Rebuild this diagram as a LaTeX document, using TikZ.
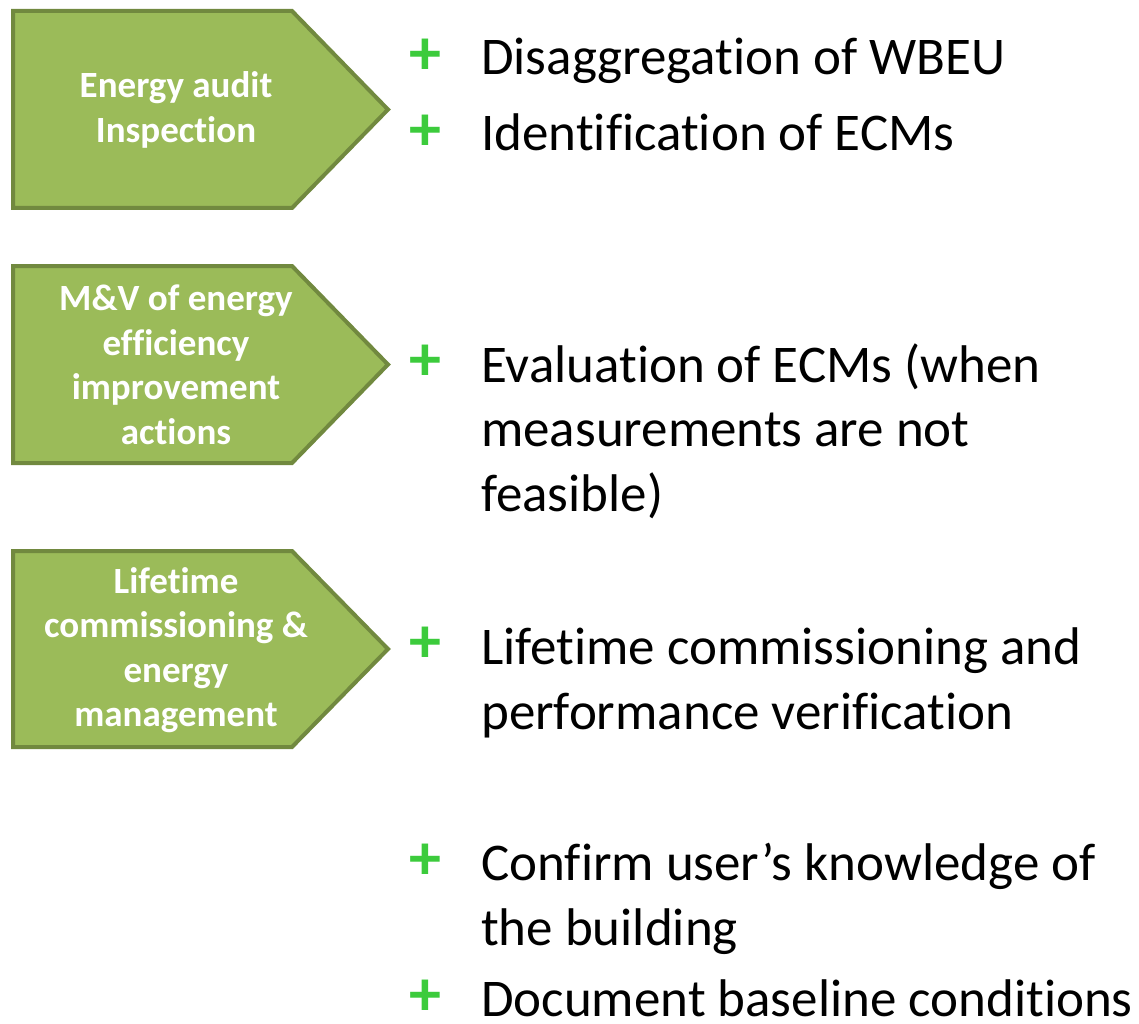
\documentclass[tikz,border=0pt]{standalone}
\usepackage{fontspec}
\setmainfont{Carlito}[Ligatures=NoCommon]
\usetikzlibrary{positioning}

\definecolor{stagefill}{HTML}{9BBB59}
\definecolor{stageline}{HTML}{71893F}
\definecolor{plusgreen}{HTML}{3CCB3C}

\begin{document}
\begin{tikzpicture}[x=1pt,y=-1pt,
    stage/.style={fill=stagefill,draw=stageline,line width=4pt,line join=miter},
    stagetext/.style={text=white,font=\fontsize{37}{44.5}\selectfont\bfseries,align=center,inner sep=0pt},
    item/.style={anchor=base west,inner sep=0pt,align=left,font=\fontsize{53}{64.5}\selectfont},
    plus/.style={text=plusgreen,inner sep=0pt,font=\fontsize{64}{64}\selectfont\bfseries}]
  \useasboundingbox (0,0) rectangle (1139,1024);

  % the three stages
  \draw[stage] (13,11) -- (292,11) -- (388,109.5) -- (292,208) -- (13,208) -- cycle;
  \draw[stage] (13,266) -- (292,266) -- (388,364.5) -- (292,463) -- (13,463) -- cycle;
  \draw[stage] (13,551) -- (292,551) -- (388,649) -- (292,747) -- (13,747) -- cycle;

  \node[stagetext] (audit) at (176,110) {Energy audit\\Inspection};
  \node[stagetext] (mv) at (176,365) {M\&V of energy\\efficiency\\improvement\\actions};
  \node[stagetext] (life) at (176,650) {Lifetime\\commissioning \&\\energy\\management};

  % items (base = last line)
  \node[item] (disagg) at (481,75) {Disaggregation of WBEU};
  \node[item] (ident) at (481,151) {Identification of ECMs};
  \node[item] (eval) at (481,511) {Evaluation of ECMs (when\\measurements are not\\feasible)};
  \node[item] (commis) at (481,729) {Lifetime commissioning and\\performance verification};
  \node[item] (confirm) at (481,945) {Confirm user’s knowledge of\\the building};
  \node[item] (baseline) at (481,1016) {Document baseline conditions};

  % bullets
  \node[plus] (p1) at (425,57) {+};
  \node[plus] (p2) at (425,133) {+};
  \node[plus] (p3) at (425,363) {+};
  \node[plus] (p4) at (425,645) {+};
  \node[plus] (p5) at (425,862) {+};
  \node[plus] (p6) at (425,998) {+};
\end{tikzpicture}
\end{document}
